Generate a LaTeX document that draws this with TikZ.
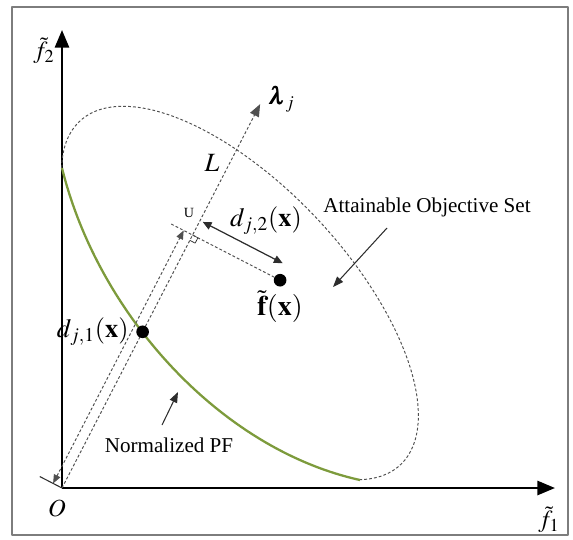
\documentclass[tikz,border=0pt]{standalone}
\usepackage{mathptmx}
\usepackage{bm}
\usepackage{fontspec}
\setmainfont{Liberation Serif}
\usetikzlibrary{arrows.meta}
\usetikzlibrary{positioning}

\begin{document}
\begin{tikzpicture}[
    >=Latex,
    line join=round,
    x=0.02cm,
    y=0.02cm,
    font=\fontsize{12}{14}\selectfont
]

% =========================================================
% Colors
% =========================================================
\definecolor{framegray}{RGB}{125,125,125}
\definecolor{pfgreen}{RGB}{125,155,60}
\definecolor{dashgray}{RGB}{80,80,80}
\definecolor{arrowgray}{RGB}{45,45,45}

% =========================================================
% Styles
% =========================================================
\tikzset{
    boxframe/.style={framegray,line width=1.1pt},
    axisline/.style={-{Triangle[length=10pt,width=8pt]},line width=1.4pt,black},
    pfcurve/.style={pfgreen,line width=1.3pt},
    setline/.style={dashgray,line width=0.55pt,dash pattern=on 1.6pt off 1.2pt},
    lamline/.style={setline,-{Triangle[length=7pt,width=5.5pt]}},
    dimline/.style={setline,{Triangle[length=5pt,width=4pt]}-{Triangle[length=5pt,width=4pt]}},
    dimsolid/.style={arrowgray,line width=0.7pt,{Triangle[length=5pt,width=4.5pt]}-{Triangle[length=5pt,width=4.5pt]}},
    callout/.style={arrowgray,line width=0.6pt,-{Triangle[length=6pt,width=4.5pt]}},
    dotnode/.style={circle,fill=black,inner sep=0pt,minimum size=7.2pt},
    mathlabel/.style={font=\fontsize{15}{17}\selectfont,inner sep=1pt}
}

\useasboundingbox (0,0) rectangle (573,539);

% =========================================================
% Frame and axes
% =========================================================
\draw[boxframe] (12,4) rectangle (568,532);

\coordinate (O) at (62,51);
\coordinate (ytop) at (62,509);
\coordinate (xend) at (555,51);
\draw[axisline] (O) -- (ytop);
\draw[axisline] (O) -- (xend);
\node[mathlabel,font=\fontsize{14}{16}\selectfont] (ylab) at (44,488) {$\tilde{f}_2$};
\node[mathlabel,font=\fontsize{14}{16}\selectfont] (xlab) at (549,19) {$\tilde{f}_1$};
\node[mathlabel,font=\fontsize{14}{16}\selectfont] (olab) at (57,31) {$O$};

% =========================================================
% Attainable set and normalized PF
% =========================================================
\coordinate (pfstart) at (62,371);
\coordinate (pfend) at (360,59);
\draw[setline,shift={(240,246)},rotate=-47]
    (-22:235 and 107) arc[start angle=-22,end angle=205,x radius=235,y radius=107];
\draw[pfcurve] (pfstart) .. controls (98,225) and (220,90) .. (pfend);

% =========================================================
% Reference direction and distances
% =========================================================
\begin{scope}[shift={(O)},rotate=62.7]
    \coordinate (lamtip) at (432,0);
    \coordinate (pfpt) at (175.8,0);
    \coordinate (U) at (284.7,0);
    \coordinate (fxpt) at (284.7,-98.5);
    \coordinate (uext) at (284.7,24);
    \coordinate (tickA) at (0,0);
    \coordinate (tickB) at (0,25);
    \coordinate (doneA) at (0,10);
    \coordinate (doneB) at (284.7,10);
    \coordinate (dtwoA) at (301,-3);
    \coordinate (dtwoB) at (301,-93);

    % right angle at U
    \draw[arrowgray,line width=0.4pt] (284.7,-6) -- (278.7,-6) -- (278.7,0);
    \draw[arrowgray,line width=0.4pt] (284.7,-6) -- (284.7,0);
\end{scope}

\draw[lamline] (O) -- (lamtip);
\draw[arrowgray,line width=0.6pt] (tickA) -- (tickB);
\draw[dimline] (doneA) -- (doneB);
\draw[setline] (uext) -- (fxpt);
\draw[dimsolid] (dtwoA) -- (dtwoB);

\node[dotnode] (pfdot) at (pfpt) {};
\node[dotnode] (fxdot) at (fxpt) {};

% =========================================================
% Labels
% =========================================================
\node[mathlabel,font=\fontsize{14}{16}\selectfont,anchor=west] (lamlab) at (266,440) {$\bm{\lambda}_j$};
\node[mathlabel] (Llab) at (212,376) {$L$};
\node[font=\fontsize{8}{9}\selectfont,inner sep=0pt] (Ulab) at (189,326) {U};
\node[mathlabel] (dtwolab) at (266,318) {$d_{j,2}(\mathbf{x})$};
\node[mathlabel,left=3pt of pfdot] (donelab) {$d_{j,1}(\mathbf{x})$};
\node[mathlabel,font=\fontsize{16}{18}\selectfont,below=1pt of fxdot] (fxlab) {$\tilde{\mathbf{f}}(\mathbf{x})$};

\node (aoslab) at (427,332) {Attainable Objective Set};
\coordinate (aostail) at (387,311);
\coordinate (aostip) at (333,252);
\draw[callout] (aostail) -- (aostip);

\node (pflab) at (169,94) {Normalized PF};
\coordinate (pftail) at (162,114);
\coordinate (pftip) at (178,147);
\draw[callout] (pftail) -- (pftip);

\end{tikzpicture}
\end{document}
